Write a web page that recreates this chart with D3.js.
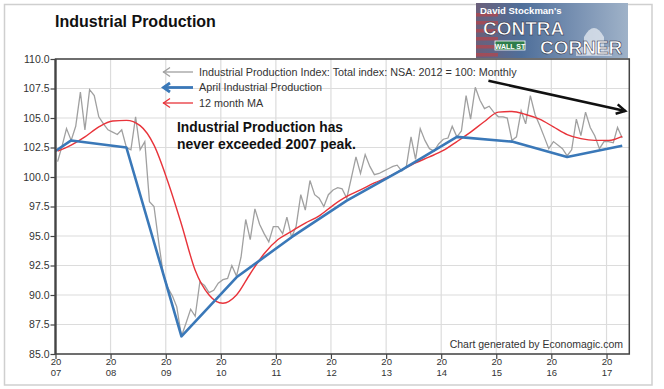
<!DOCTYPE html>
<html>
<head>
<meta charset="utf-8">
<script src="https://cdn.jsdelivr.net/npm/d3@7"></script>
<style>
  body { margin: 0; background: #fff; }
  text { font-family: "Liberation Sans", Arial, sans-serif; }
</style>
</head>
<body>
<svg id="chart" width="664" height="389"></svg>
<script>
// monthly index, Jan 2007 .. Apr 2017 (NSA, 2012 = 100)
const ipIndex = [
  101.3, 102.7, 104.1, 103.1, 104.3, 107.2, 104.0, 107.4, 106.9, 105.1, 104.5, 104.0,
  103.8, 103.6, 104.0, 102.5, 102.3, 105.1, 102.3, 103.0, 97.9, 97.5, 94.5, 91.8,
  90.6, 89.9, 89.0, 86.5, 87.6, 88.8, 88.2, 91.1, 90.8, 90.2, 90.4, 91.0,
  91.3, 91.4, 92.5, 91.6, 93.2, 96.4, 94.7, 97.3, 96.0, 95.2, 94.5, 95.8,
  95.8, 95.2, 96.6, 94.9, 95.8, 98.5, 97.2, 99.7, 98.5, 98.2, 97.5, 98.5,
  98.9, 99.1, 99.0, 98.2, 99.9, 101.7, 100.3, 101.9, 100.9, 100.2, 100.3, 100.5,
  100.7, 100.9, 101.0, 100.5, 100.9, 103.4, 101.5, 104.1, 103.1, 102.4, 102.2, 102.8,
  103.2, 103.3, 104.3, 103.4, 103.9, 106.9, 104.9, 107.6, 106.5, 105.8, 106.0, 105.5,
  105.1, 105.1, 105.0, 103.1, 103.4, 105.6, 104.5, 106.9, 105.3, 104.4, 103.4, 102.4,
  103.0, 102.7, 102.4, 101.8, 102.3, 104.9, 103.5, 105.5, 104.2, 103.5, 102.4, 103.0,
  103.0, 102.9, 104.2, 103.3
];

// hand drawn "April" line
const aprilDates = ["2007-01-01", "2007-04-15", "2008-04-15", "2009-04-15", "2010-04-15", "2011-04-15",
  "2012-04-15", "2013-04-15", "2014-04-15", "2015-04-15", "2016-04-15", "2017-04-15"];
const aprilValues = [102.2, 103.1, 102.5, 86.5, 91.5, 94.9, 98.0, 100.6, 103.4, 103.0, 101.7, 102.65];

// 12 month moving average, read quarterly
const maDates = [
  "2007-01-15", "2007-04-15", "2007-07-15", "2007-10-15",
  "2008-01-15", "2008-04-15", "2008-07-15", "2008-10-15",
  "2009-01-15", "2009-04-15", "2009-07-15", "2009-10-15",
  "2010-01-15", "2010-04-15", "2010-07-15", "2010-10-15",
  "2011-01-15", "2011-04-15", "2011-07-15", "2011-10-15",
  "2012-01-15", "2012-04-15", "2012-07-15", "2012-10-15",
  "2013-01-15", "2013-04-15", "2013-07-15", "2013-10-15",
  "2014-01-15", "2014-04-15", "2014-07-15", "2014-10-15",
  "2015-01-15", "2015-04-15", "2015-07-15", "2015-10-15",
  "2016-01-15", "2016-04-15", "2016-07-15", "2016-10-15",
  "2017-01-15", "2017-04-15"
];
const maValues = [
  102.2, 102.7, 103.4, 104.25,
  104.75, 104.8, 104.35, 102.7,
  99.6, 96.0, 92.1, 90.0,
  89.3, 90.0, 91.8, 93.5,
  94.7, 95.4, 96.1, 96.7,
  97.6, 98.35, 98.9, 99.5,
  100.0, 100.6, 101.2, 101.7,
  102.25, 103.0, 103.8, 104.7,
  105.5, 105.55, 105.3, 104.9,
  104.25, 103.6, 103.25, 103.1,
  103.1, 103.45
];

const yTicks = [85, 87.5, 90, 92.5, 95, 97.5, 100, 102.5, 105, 107.5, 110];
const xTickYears = [2007, 2008, 2009, 2010, 2011, 2012, 2013, 2014, 2015, 2016, 2017];

const legendLabels = [
  "Industrial Production Index: Total index: NSA: 2012 = 100: Monthly",
  "April Industrial Production",
  "12 month MA"
];

const parseDate = d3.timeParse("%Y-%m-%d");

const svg = d3.select("#chart");

const x = d3.scaleTime()
  .domain([new Date(2007, 0, 1), new Date(2017, 5, 1)])
  .range([55.5, 629.3]);

const y = d3.scaleLinear()
  .domain([85, 110])
  .range([354, 59]);

const [x0, x1] = x.range();
const [yb, yt] = y.range();

// outer frame
svg.append("rect")
  .attr("x", 4.5).attr("y", 4.5)
  .attr("width", 647.5).attr("height", 380.5)
  .attr("fill", "#fff")
  .attr("stroke", "#cfcfcf")
  .attr("stroke-width", 1.5);

// title
svg.append("text")
  .attr("x", 55).attr("y", 27)
  .attr("font-size", 16)
  .attr("font-weight", "bold")
  .attr("fill", "#111")
  .text("Industrial Production");

// logo
const logo = svg.append("g").attr("transform", "translate(476,3)");
const defs = svg.append("defs");
const grad = defs.append("linearGradient").attr("id", "logoBg").attr("x1", 0).attr("x2", 1).attr("y1", 0).attr("y2", 0);
grad.append("stop").attr("offset", "0%").attr("stop-color", "#6a5f7a");
grad.append("stop").attr("offset", "30%").attr("stop-color", "#4f6f9a");
grad.append("stop").attr("offset", "70%").attr("stop-color", "#7d95b5");
grad.append("stop").attr("offset", "100%").attr("stop-color", "#9fb2c8");
logo.append("rect").attr("width", 152).attr("height", 55).attr("fill", "url(#logoBg)");
// flag stripes
[10, 18, 26, 34, 42, 50].forEach(s => {
  logo.append("rect").attr("x", 0).attr("y", s).attr("width", 22).attr("height", 3.5)
    .attr("fill", "#b8444a").attr("opacity", 0.7);
});
// dome
logo.append("path")
  .attr("d", "M108,52 L108,34 Q118,16 128,34 L128,52 Z")
  .attr("fill", "#e6ebf2").attr("opacity", 0.75);
logo.append("rect").attr("x", 100).attr("y", 44).attr("width", 36).attr("height", 9)
  .attr("fill", "#dde3ec").attr("opacity", 0.7);
logo.append("text").attr("x", 4).attr("y", 11)
  .attr("font-size", 9.5).attr("font-weight", "bold").attr("fill", "#fff")
  .text("David Stockman's");
logo.append("text").attr("x", 7).attr("y", 32)
  .attr("font-size", 19).attr("font-weight", "bold").attr("fill", "#fff")
  .attr("stroke", "#223").attr("stroke-width", 0.5)
  .text("CONTRA");
logo.append("rect").attr("x", 19).attr("y", 38).attr("width", 30).attr("height", 9)
  .attr("fill", "#2e7d4a").attr("stroke", "#fff").attr("stroke-width", 0.8);
logo.append("text").attr("x", 34).attr("y", 45.5)
  .attr("font-size", 7).attr("font-weight", "bold").attr("fill", "#fff")
  .attr("text-anchor", "middle")
  .text("WALL ST");
logo.append("text").attr("x", 64).attr("y", 51)
  .attr("font-size", 19).attr("font-weight", "bold").attr("fill", "#fff")
  .attr("stroke", "#223").attr("stroke-width", 0.5)
  .text("CORNER");

// grid
svg.append("g").selectAll("line")
  .data(yTicks)
  .join("line")
  .attr("x1", x0).attr("x2", x1)
  .attr("y1", d => y(d)).attr("y2", d => y(d))
  .attr("stroke", "#dcdcdc").attr("stroke-width", 1.2);

svg.append("g").selectAll("line")
  .data(xTickYears)
  .join("line")
  .attr("x1", d => x(new Date(d, 0, 1))).attr("x2", d => x(new Date(d, 0, 1)))
  .attr("y1", yt).attr("y2", yb)
  .attr("stroke", "#dcdcdc").attr("stroke-width", 1.2);

// series
const ipData = ipIndex.map((v, i) => ({ date: new Date(2007, i, 15), value: v }));
const aprilData = aprilDates.map((d, i) => ({ date: parseDate(d), value: aprilValues[i] }));
const maData = maDates.map((d, i) => ({ date: parseDate(d), value: maValues[i] }));

const line = d3.line()
  .x(d => x(d.date))
  .y(d => y(d.value));

svg.append("path")
  .datum(ipData)
  .attr("d", line)
  .attr("fill", "none")
  .attr("stroke", "#a0a0a0")
  .attr("stroke-width", 1.3);

svg.append("path")
  .datum(maData)
  .attr("d", line.curve(d3.curveMonotoneX))
  .attr("fill", "none")
  .attr("stroke", "#e8333a")
  .attr("stroke-width", 1.4);

svg.append("path")
  .datum(aprilData)
  .attr("d", d3.line().x(d => x(d.date)).y(d => y(d.value)))
  .attr("fill", "none")
  .attr("stroke", "#3a78b8")
  .attr("stroke-width", 2.6)
  .attr("stroke-linejoin", "round");

// axes
const yAxis = svg.append("g")
  .attr("transform", `translate(${x0},0)`)
  .call(d3.axisLeft(y).tickValues(yTicks).tickSize(5).tickPadding(1).tickFormat(d3.format(".1f")));
yAxis.select(".domain").remove();
yAxis.attr("font-family", "Liberation Sans, Arial, sans-serif").attr("font-size", 10.5);
yAxis.selectAll("line").attr("stroke", "#444").attr("stroke-width", 1.2);
yAxis.selectAll("text").attr("fill", "#333");

const xAxis = svg.append("g")
  .attr("transform", `translate(0,${yb})`)
  .call(d3.axisBottom(x).tickValues(xTickYears.map(d => new Date(d, 0, 1))).tickSize(5).tickFormat(""));
xAxis.select(".domain").remove();
xAxis.selectAll("line").attr("stroke", "#444").attr("stroke-width", 1.2);
xAxis.selectAll(".tick").each(function (d) {
  const yr = String(d.getFullYear());
  const tick = d3.select(this);
  [yr.slice(0, 2), yr.slice(2)].forEach((part, k) => {
    tick.append("text")
      .attr("fill", "#333")
      .attr("font-size", 9.5)
      .attr("font-family", "Liberation Sans, Arial, sans-serif")
      .attr("text-anchor", "middle")
      .attr("x", 0)
      .attr("y", 11 + k * 11)
      .text(part);
  });
});

// plot frame
svg.append("rect")
  .attr("x", x0).attr("y", yt)
  .attr("width", x1 - x0).attr("height", yb - yt)
  .attr("fill", "none")
  .attr("stroke", "#444")
  .attr("stroke-width", 1.5);
svg.append("line")
  .attr("x1", x0).attr("x2", x0).attr("y1", yt).attr("y2", yb)
  .attr("stroke", "#444").attr("stroke-width", 2.2);

// legend
const legendStyles = [
  { color: "#a0a0a0", width: 1.3 },
  { color: "#3a78b8", width: 2.8 },
  { color: "#e8333a", width: 1.3 }
];
const legend = svg.append("g").attr("transform", "translate(163,72)");
legendLabels.forEach((label, i) => {
  const g = legend.append("g").attr("transform", `translate(0,${i * 15.5})`);
  const st = legendStyles[i];
  g.append("line").attr("x1", 0).attr("x2", 30).attr("y1", 0).attr("y2", 0)
    .attr("stroke", st.color).attr("stroke-width", st.width);
  g.append("path").attr("d", "M7,-4.5 L0.5,0 L7,4.5")
    .attr("fill", "none").attr("stroke", st.color).attr("stroke-width", st.width)
    .attr("stroke-linejoin", "miter");
  g.append("text").attr("x", 36).attr("y", 3.8)
    .attr("font-size", 10.8).attr("fill", "#333")
    .text(label);
});

// annotation
const note = svg.append("g")
  .attr("font-family", "Lato, 'Open Sans', sans-serif")
  .attr("font-weight", "bold")
  .attr("font-size", 15)
  .attr("fill", "#111");
note.append("text").attr("x", 177).attr("y", 132).attr("textLength", 166).attr("lengthAdjust", "spacingAndGlyphs")
  .text("Industrial Production has");
note.append("text").attr("x", 177).attr("y", 149).attr("textLength", 179).attr("lengthAdjust", "spacingAndGlyphs")
  .text("never exceeded 2007 peak.");

// trend arrow
const arrowFrom = { date: new Date(2014, 10, 10), value: 108.15 };
const arrowTo = { date: new Date(2017, 4, 5), value: 105.6 };
const ax1 = x(arrowFrom.date), ay1 = y(arrowFrom.value);
const ax2 = x(arrowTo.date), ay2 = y(arrowTo.value);
const ang = Math.atan2(ay2 - ay1, ax2 - ax1);
const head = 10;
svg.append("line")
  .attr("x1", ax1).attr("y1", ay1).attr("x2", ax2).attr("y2", ay2)
  .attr("stroke", "#111").attr("stroke-width", 2.5);
svg.append("path")
  .attr("d", `M${ax2 - head * Math.cos(ang - 0.5)},${ay2 - head * Math.sin(ang - 0.5)} L${ax2},${ay2} L${ax2 - head * Math.cos(ang + 0.5)},${ay2 - head * Math.sin(ang + 0.5)}`)
  .attr("fill", "none").attr("stroke", "#111").attr("stroke-width", 2.5);

// credit
svg.append("text")
  .attr("x", 623).attr("y", 348)
  .attr("text-anchor", "end")
  .attr("font-size", 10.5)
  .attr("fill", "#333")
  .text("Chart generated by Economagic.com");
</script>
</body>
</html>
